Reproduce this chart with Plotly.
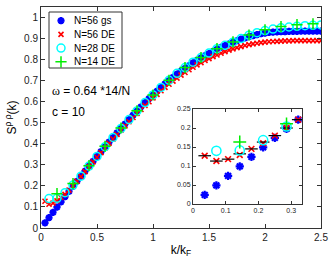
import plotly.graph_objects as go

# k/kF grids
k56 = [n / 28 for n in range(1, 71)]
k28 = [n / 14 for n in range(1, 36)]
k14 = [n / 7 for n in range(1, 18)]

s56_gs = [0.024, 0.049, 0.074, 0.099, 0.124, 0.149, 0.174, 0.198, 0.222, 0.246,
          0.270, 0.294, 0.317, 0.340, 0.363, 0.386, 0.408, 0.430, 0.452, 0.473,
          0.494, 0.515, 0.536, 0.556, 0.576, 0.596, 0.615, 0.632, 0.650, 0.668,
          0.685, 0.700, 0.716, 0.731, 0.745, 0.759, 0.772, 0.785, 0.797, 0.808,
          0.819, 0.829, 0.839, 0.849, 0.858, 0.867, 0.875, 0.883, 0.890, 0.897,
          0.903, 0.909, 0.914, 0.919, 0.923, 0.926, 0.929, 0.931, 0.932, 0.933,
          0.933, 0.934, 0.934, 0.934, 0.935, 0.935, 0.935, 0.935, 0.935, 0.935]

s56_de = [0.127, 0.113, 0.118, 0.129, 0.145, 0.160, 0.180, 0.200, 0.222, 0.244,
          0.268, 0.291, 0.314, 0.336, 0.358, 0.380, 0.402, 0.423, 0.444, 0.465,
          0.485, 0.505, 0.525, 0.544, 0.563, 0.582, 0.600, 0.618, 0.635, 0.652,
          0.668, 0.683, 0.698, 0.712, 0.726, 0.739, 0.752, 0.764, 0.775, 0.786,
          0.796, 0.805, 0.814, 0.822, 0.830, 0.838, 0.845, 0.851, 0.857, 0.862,
          0.867, 0.871, 0.875, 0.878, 0.881, 0.883, 0.885, 0.886, 0.887, 0.888,
          0.889, 0.889, 0.890, 0.890, 0.890, 0.890, 0.890, 0.890, 0.890, 0.890]

s28_de = [0.140, 0.141, 0.168, 0.204, 0.246, 0.294, 0.340, 0.386, 0.430, 0.473,
          0.515, 0.556, 0.596, 0.632, 0.668, 0.702, 0.735, 0.762, 0.788, 0.810,
          0.831, 0.852, 0.868, 0.883, 0.900, 0.916, 0.928, 0.938, 0.945, 0.951,
          0.955, 0.958, 0.961, 0.963, 0.965]

s14_de = [0.163, 0.211, 0.296, 0.388, 0.475, 0.557, 0.632, 0.702, 0.762, 0.810,
          0.852, 0.884, 0.917, 0.942, 0.957, 0.966, 0.970]

# extra reference marks shown in the inset (black dashes)
k_ref = [n / 28 for n in range(1, 10)]
s_ref = [0.127, 0.113, 0.118, 0.132, 0.145, 0.163, 0.180, 0.200, 0.222]

series_names = ["N=56 gs", "N=56 DE", "N=28 DE", "N=14 DE"]

main_xticks = [0, 0.5, 1, 1.5, 2, 2.5]
main_xlabels = ["0", "0.5", "1", "1.5", "2", "2.5"]
main_yticks = [0, 0.1, 0.2, 0.3, 0.4, 0.5, 0.6, 0.7, 0.8, 0.9, 1]
main_ylabels = ["0", "0.1", "0.2", "0.3", "0.4", "0.5", "0.6", "0.7", "0.8", "0.9", "1"]
ins_xticks = [0, 0.1, 0.2, 0.3]
ins_yticks = [0, 0.05, 0.1, 0.15, 0.2, 0.25]

BLUE = "#0000FF"
RED = "#FF0000"
CYAN = "#00FFFF"
GREEN = "#00EE00"

styles = [
    dict(symbol="asterisk-open", size=6, color=BLUE, line=dict(color=BLUE, width=2.2)),
    dict(symbol="x-thin-open", size=5, color=RED, line=dict(color=RED, width=1.6)),
    dict(symbol="circle-open", size=8, color=CYAN, line=dict(color=CYAN, width=1.5)),
    dict(symbol="cross-thin-open", size=8, color=GREEN, line=dict(color=GREEN, width=1.5)),
]
series = [(k56, s56_gs), (k56, s56_de), (k28, s28_de), (k14, s14_de)]

fig = go.Figure()

# main axes
for (xs, ys), name, st in zip(series, series_names, styles):
    fig.add_trace(go.Scatter(x=xs, y=ys, mode="markers", name=name, xaxis="x", yaxis="y",
                             showlegend=False, marker=st, hoverinfo="x+y"))

# inset axes (only points in the inset range)
INSET_MAX = 0.333
for i, ((xs, ys), name, st) in enumerate(zip(series, series_names, styles)):
    px = [a for a in xs if a <= INSET_MAX + 0.002]
    py = [b for a, b in zip(xs, ys) if a <= INSET_MAX + 0.002]
    st2 = dict(st)
    st2["size"] = st["size"] * 1.15
    fig.add_trace(go.Scatter(x=px, y=py, mode="markers", name=name, xaxis="x2", yaxis="y2",
                             showlegend=False, marker=st2))
    if i == 1:
        fig.add_trace(go.Scatter(x=k_ref, y=s_ref, mode="markers", name="ref", xaxis="x2",
                                 yaxis="y2", showlegend=False,
                                 marker=dict(symbol="line-ew-open", size=9, color="black",
                                             line=dict(color="black", width=1.2))))

# hand-built legend (compact rows like the original), drawn on a helper axis
ROW0, ROWSTEP = 8.7, 13.7
for i, (name, st) in enumerate(zip(series_names, styles)):
    fig.add_trace(go.Scatter(x=[12], y=[ROW0 + ROWSTEP * i], mode="markers", xaxis="x3",
                             yaxis="y3", showlegend=False, marker=st, hoverinfo="skip"))
    fig.add_annotation(x=23, y=ROW0 + ROWSTEP * i, xref="x3", yref="y3", text=name,
                       showarrow=False, xanchor="left", yanchor="middle",
                       font=dict(family="Liberation Sans, Arial, sans-serif", size=10,
                                 color="black"))

FONT = "Liberation Sans, Arial, sans-serif"
axis_common = dict(showline=True, linecolor="#333333", linewidth=1, mirror="ticks",
                   ticks="inside", ticklen=4, tickcolor="#333333", showgrid=False,
                   zeroline=False, automargin=False,
                   tickfont=dict(family=FONT, size=10, color="#222222"))
inset_axis = {**axis_common, "tickfont": dict(family=FONT, size=7, color="#222222"),
              "ticklen": 3}

L, R, T, B = 41, 321, 7, 228
W, H = R - L, B - T


def px2x(p):
    return (p - L) / W


def px2y(p):
    return (B - p) / H


fig.update_layout(
    width=332, height=260,
    margin=dict(l=L, r=332 - R, t=T, b=260 - B, autoexpand=False),
    paper_bgcolor="white", plot_bgcolor="white",
    font=dict(family=FONT, size=10, color="black"),
    showlegend=False,
    xaxis=dict(range=[0, 2.5], tickvals=main_xticks, ticktext=main_xlabels,
               domain=[0, 1], anchor="y",
               title=dict(text="k/k<sub>F</sub>", font=dict(family=FONT, size=12), standoff=3),
               **axis_common),
    yaxis=dict(range=[0, 1.05], tickvals=main_yticks, ticktext=main_ylabels,
               domain=[0, 1], anchor="x",
               title=dict(text="S<sup>ρ ρ</sup>(k)", font=dict(family=FONT, size=12), standoff=4),
               **axis_common),
    xaxis2=dict(range=[0, INSET_MAX], tickvals=ins_xticks,
                domain=[px2x(193), px2x(302)], anchor="y2", **inset_axis),
    yaxis2=dict(range=[0, 0.25], tickvals=ins_yticks,
                domain=[px2y(204), px2y(109)], anchor="x2", **inset_axis),
    xaxis3=dict(range=[0, 73], domain=[px2x(49), px2x(122)], anchor="y3", visible=False,
                fixedrange=True),
    yaxis3=dict(range=[56, 0], domain=[px2y(68), px2y(12)], anchor="x3", visible=False,
                fixedrange=True),
)

fig.add_shape(type="rect", xref="paper", yref="paper",
              x0=px2x(49), x1=px2x(122), y0=px2y(68), y1=px2y(12),
              line=dict(color="#333333", width=1), fillcolor="rgba(0,0,0,0)", layer="above")

fig.add_annotation(x=px2x(50), y=px2y(91), xref="paper", yref="paper",
                   text="<span style='font-family:Liberation Serif,Times New Roman,serif'>ω</span> = 0.64 *14/N",
                   showarrow=False, xanchor="left", yanchor="middle",
                   font=dict(family=FONT, size=12, color="black"))
fig.add_annotation(x=px2x(50), y=px2y(112), xref="paper", yref="paper",
                   text="c = 10", showarrow=False, xanchor="left", yanchor="middle",
                   font=dict(family=FONT, size=12, color="black"))

fig.write_html("out.html", config={"displayModeBar": False},
               post_script="document.body.style.margin='0';document.body.style.padding='0';")
